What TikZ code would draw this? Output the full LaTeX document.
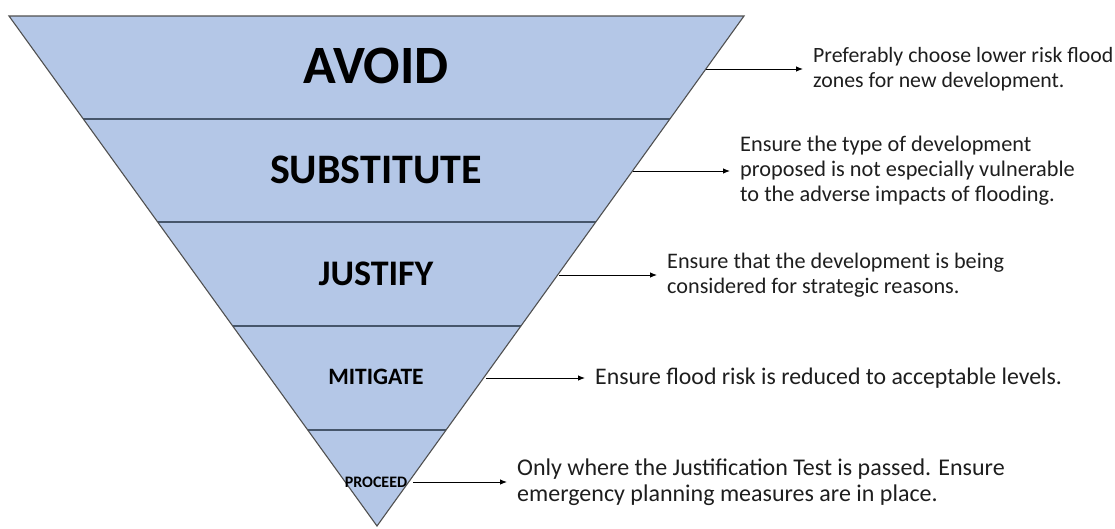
\documentclass[tikz,border=0pt]{standalone}
\usepackage{fontspec}
\setmainfont{Carlito}
\usetikzlibrary{arrows.meta}
\definecolor{bandfill}{HTML}{B4C7E7}
\definecolor{edgegray}{HTML}{505050}
\definecolor{divline}{HTML}{46566B}
\definecolor{txt}{HTML}{1E1E1E}
\tikzset{
  band/.style={font=\bfseries, text=black, inner sep=0pt, anchor=center},
  desc/.style={font=\fontsize{21.8}{25}\selectfont, text=txt, align=left, anchor=west, inner sep=0pt},
  arr/.style={draw=black, line width=0.9pt, -{Latex[length=7pt,width=5.5pt]}, shorten >=10pt},
  divider/.style={draw=divline, line width=1.3pt}
}
\begin{document}
\begin{tikzpicture}[x=1pt,y=-1pt]
\useasboundingbox (0,0) rectangle (1115,528);
% triangle corners
\coordinate (TL) at (9,16);
\coordinate (TR) at (744,16);
\coordinate (AP) at (377,526);
\fill[bandfill] (TL) -- (TR) -- (AP) -- cycle;
% dividers
\coordinate (L1) at (83.3,119);  \coordinate (R1) at (669.9,119);
\coordinate (L2) at (157.6,222); \coordinate (R2) at (595.8,222);
\coordinate (L3) at (232.7,326); \coordinate (R3) at (520.9,326);
\coordinate (L4) at (307.7,430); \coordinate (R4) at (446.1,430);
\draw[divider] (L1) -- (R1);
\draw[divider] (L2) -- (R2);
\draw[divider] (L3) -- (R3);
\draw[divider] (L4) -- (R4);
\draw[edgegray, line width=1.1pt, line join=miter] (TL) -- (TR) -- (AP) -- cycle;
% band labels
\node[band, font=\fontsize{54}{56}\selectfont\bfseries] (avoid) at (376,66) {AVOID};
\node[band, font=\fontsize{42}{44}\selectfont\bfseries] (subst) at (376,170) {SUBSTITUTE};
\node[band, font=\fontsize{36}{38}\selectfont\bfseries] (just) at (376,274) {JUSTIFY};
\node[band, font=\fontsize{23.5}{25}\selectfont\bfseries] (miti) at (376,377) {MITIGATE};
\node[band, font=\fontsize{16}{18}\selectfont\bfseries] (proc) at (376,482) {PROCEED};
% edge points
\coordinate (e1) at (706,69);
\coordinate (e2) at (633,171);
\coordinate (e3) at (559,275);
\coordinate (e4) at (486,378);
\coordinate (e5) at (413,482);
% descriptions
\node[desc] (d1) at (813,69) {Preferably choose lower risk flood\\zones for new development.};
\node[desc, font=\fontsize{22.3}{25}\selectfont] (d2) at (740,171) {Ensure the type of development\\proposed is not especially vulnerable\\to the adverse impacts of flooding.};
\node[desc, font=\fontsize{22.2}{25}\selectfont] (d3) at (667,275) {Ensure that the development is being\\considered for strategic reasons.};
\node[desc, font=\fontsize{23.8}{25}\selectfont] (d4) at (595,378) {Ensure flood risk is reduced to acceptable levels.};
\node[desc, font=\fontsize{24}{25.5}\selectfont] (d5) at (517,482) {Only where the Justification Test is passed. Ensure\\emergency planning measures are in place.};
% arrows
\draw[arr] (e1) -- (d1.west);
\draw[arr] (e2) -- (d2.west);
\draw[arr] (e3) -- (d3.west);
\draw[arr] (e4) -- (d4.west);
\draw[arr] (e5) -- (d5.west);
\end{tikzpicture}
\end{document}
